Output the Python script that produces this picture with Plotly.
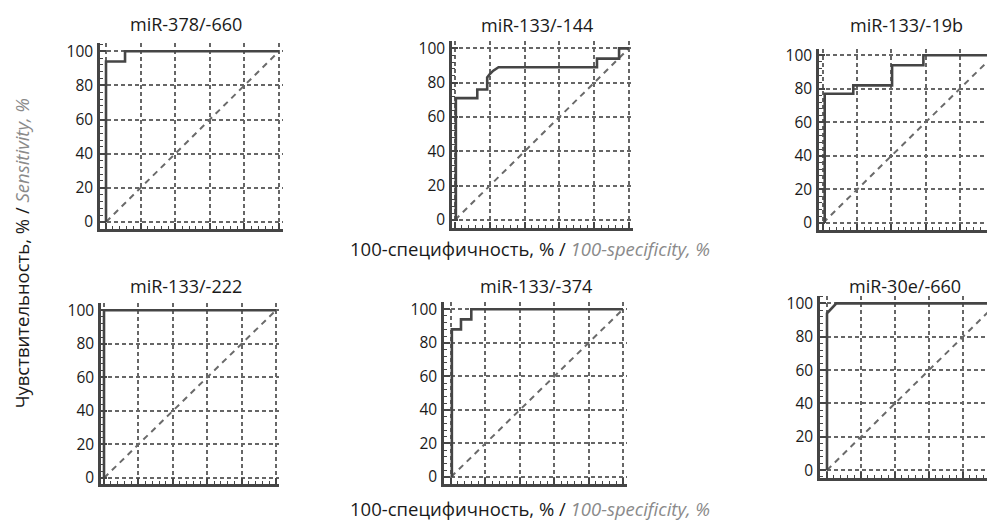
import plotly.graph_objects as go

# ---------------- data ----------------
titles = ["miR-378/-660", "miR-133/-144", "miR-133/-19b",
          "miR-133/-222", "miR-133/-374", "miR-30e/-660"]

roc1_x = [0, 0, 11, 11, 100]
roc1_y = [0, 94, 94, 100, 100]
roc2_x = [0.5, 0.5, 12.8, 12.8, 18.5, 18.5, 20, 22, 25, 81.6, 81.6, 94.3, 94.3, 100]
roc2_y = [0, 71, 71, 76, 76, 83, 85, 87, 89, 89, 94, 94, 100, 100]
roc3_x = [1, 1, 17.7, 17.7, 40.4, 40.4, 58.7, 58.7, 100]
roc3_y = [0, 77, 77, 82, 82, 94, 94, 100, 100]
roc4_x = [0, 0, 100]
roc4_y = [0, 100, 100]
roc5_x = [0.5, 0.5, 5.8, 5.8, 11.8, 11.8, 100]
roc5_y = [0, 88, 88, 94, 94, 100, 100]
roc6_x = [0, 0, 5.5, 100]
roc6_y = [0, 94, 100, 100]

ref_x = [0, 100]
ref_y = [0, 100]

tick_vals = [0, 20, 40, 60, 80, 100]
tick_text = ["0", "20", "40", "60", "80", "100"]

curves = [(roc1_x, roc1_y), (roc2_x, roc2_y), (roc3_x, roc3_y),
          (roc4_x, roc4_y), (roc5_x, roc5_y), (roc6_x, roc6_y)]

# ---------------- layout geometry (screen pixels) ----------------
W, H = 995, 525
OFF = 8  # default page body margin shifts the figure by 8px
# left, right, x0px, x100px, top, bottom, y0px, y100px
geom = [
    (100, 283, 106, 279, 38, 227, 220, 46),
    (452, 633, 455, 629, 36, 226, 218, 43),
    (819, 1010, 823, 994, 44, 228, 221, 50),
    (101, 279, 104, 276, 303, 487, 481, 310),
    (444, 627, 451, 623, 302, 487, 480, 309),
    (820, 1010, 827, 997, 295, 481, 473, 303),
]
title_pos = [(186, 18), (537, 19), (906, 19), (186, 285), (536, 285), (905, 285)]

FONT = "Open Sans"
DARK = "#454545"
GRID = "#666666"


def px(v):
    return (v - OFF) / W


def py(v):
    return 1 - (v - OFF) / H


fig = go.Figure()
layout = dict(
    width=W, height=H,
    margin=dict(l=0, r=0, t=0, b=0),
    paper_bgcolor="white", plot_bgcolor="white",
    showlegend=False,
    font=dict(family=FONT, size=15, color="#1a1a1a"),
)

annotations = []
for i, ((cx, cy), g) in enumerate(zip(curves, geom)):
    n = i + 1
    xa = "x" if n == 1 else f"x{n}"
    ya = "y" if n == 1 else f"y{n}"
    left, right, x0, x100, top, bottom, y0, y100 = g
    right = min(right, W + OFF)
    sx = (x100 - x0) / 100.0
    sy = (y0 - y100) / 100.0
    xr = [(left - x0) / sx, (right - x0) / sx]
    yr = [-(bottom - y0) / sy, (y0 - top) / sy]
    xdom = [px(left), min(px(right), 1.0)]
    ydom = [py(bottom), py(top)]

    fig.add_trace(go.Scatter(x=ref_x, y=ref_y, mode="lines", xaxis=xa, yaxis=ya,
                             line=dict(color="#6a6a6a", width=2, dash="6px,5px"),
                             hoverinfo="skip", cliponaxis=False))
    fig.add_trace(go.Scatter(x=cx, y=cy, mode="lines", xaxis=xa, yaxis=ya,
                             line=dict(color=DARK, width=2.6), cliponaxis=False))

    common = dict(showline=True, linecolor=DARK, linewidth=2.5,
                  showgrid=True, gridcolor=GRID, gridwidth=1.7, griddash="4px,3px",
                  zeroline=False, ticks="inside", ticklen=6, tickwidth=1.5,
                  tickcolor=DARK, tickvals=tick_vals, fixedrange=True,
                  minor=dict(ticks="inside", ticklen=3, tickwidth=1, tickcolor=DARK,
                             dtick=4, tick0=0, showgrid=False))
    layout[f"xaxis{'' if n == 1 else n}"] = dict(
        domain=xdom, range=xr, anchor=ya, showticklabels=False, **common)
    layout[f"yaxis{'' if n == 1 else n}"] = dict(
        domain=ydom, range=yr, anchor=xa, showticklabels=True, ticktext=tick_text,
        tickfont=dict(family=FONT, size=15.5, color="#1a1a1a"), ticklabelstandoff=1,
        **common)

    tx, ty = title_pos[i]
    annotations.append(dict(text=titles[i], x=px(tx), y=py(ty),
                            xref="paper", yref="paper", showarrow=False,
                            xanchor="center", yanchor="middle",
                            font=dict(family=FONT, size=18, color="#1a1a1a")))

xlabel = "100-специфичность, % / <i><span style='color:#8a8a8a'>100-specificity, %</span></i>"
ylabel = "Чувствительность, % / <i><span style='color:#8a8a8a'>Sensitivity, %</span></i>"
for yy in (247, 512):
    annotations.append(dict(text=xlabel, x=px(530), y=py(yy), xref="paper", yref="paper",
                            showarrow=False, xanchor="center", yanchor="middle",
                            font=dict(family=FONT, size=18.5, color="#1a1a1a")))
annotations.append(dict(text=ylabel, x=px(21), y=py(252), xref="paper", yref="paper",
                        showarrow=False, xanchor="center", yanchor="middle", textangle=-90,
                        font=dict(family=FONT, size=18.5, color="#1a1a1a")))

layout["annotations"] = annotations
fig.update_layout(**layout)
fig.write_html("out.html")
